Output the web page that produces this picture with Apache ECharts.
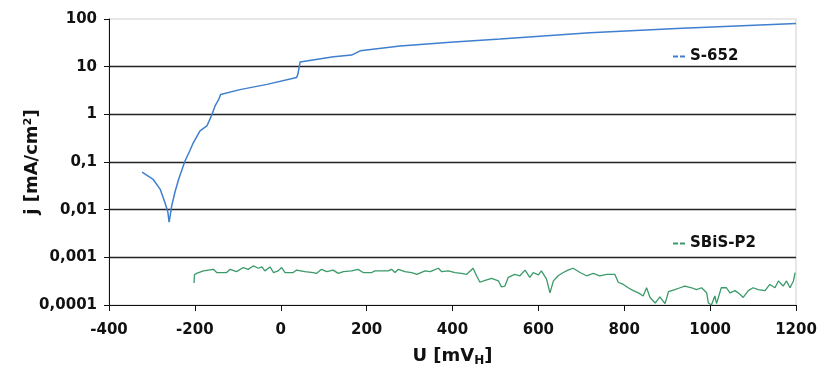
<!DOCTYPE html>
<html>
<head>
<meta charset="utf-8">
<script src="https://cdn.jsdelivr.net/npm/echarts@6/dist/echarts.min.js"></script>
<style>html,body{margin:0;padding:0;background:#fff}#c{width:817px;height:371px}</style>
</head>
<body>
<div id="c"></div>
<script>
// Potential U [mV_H]
var xTicks = [-400, -200, 0, 200, 400, 600, 800, 1000, 1200];
var yTickLabels = ['0,0001', '0,001', '0,01', '0,1', '1', '10', '100'];

// S-652 (blue)
var s652U = [-323, -297, -281, -270, -263, -260, -257, -254, -246, -238, -223, -212, -204, -188, -172, -160, -153, -145, -140, -137, -95, -32, 37, 40, 45, 123, 165, 185, 278, 395, 511, 720, 922, 1200];
var s652J = [0.061, 0.043, 0.027, 0.0143, 0.009, 0.0055, 0.008, 0.012, 0.024, 0.043, 0.105, 0.17, 0.25, 0.45, 0.57, 1.0, 1.5, 2.0, 2.6, 2.7, 3.3, 4.25, 5.9, 7, 12.5, 16.2, 17.5, 21.5, 27, 32.6, 38, 51.6, 63, 80];

// SBiS-P2 (green)
var sbisU = [-202, -201, -196, -180, -157, -149, -126, -118, -103, -87, -76, -64, -52, -44, -37, -25, -17, -6, 2, 10, 29, 37, 56, 76, 83, 95, 107, 122, 134, 146, 150, 165, 180, 192, 212, 219, 250, 258, 266, 274, 289, 305, 317, 336, 348, 367, 375, 390, 406, 421, 433, 448, 456, 464, 476, 491, 507, 514, 522, 530, 545, 557, 569, 580, 588, 600, 607, 619, 627, 635, 646, 658, 669, 681, 697, 712, 728, 743, 759, 778, 786, 798, 809, 821, 833, 844, 852, 860, 872, 875, 883, 895, 903, 918, 930, 941, 957, 968, 980, 992, 996, 1003, 1011, 1015, 1026, 1038, 1046, 1058, 1069, 1077, 1089, 1100, 1112, 1128, 1139, 1151, 1159, 1170, 1178, 1186, 1194, 1198];
var sbisJ = [0.00029, 0.00043, 0.00046, 0.00052, 0.00056, 0.00048, 0.00048, 0.00056, 0.0005, 0.00061, 0.00056, 0.00066, 0.00059, 0.00063, 0.00052, 0.00063, 0.00048, 0.00052, 0.00061, 0.00048, 0.00048, 0.00054, 0.0005, 0.00048, 0.00046, 0.00056, 0.0005, 0.00054, 0.00046, 0.0005, 0.00048, 0.00052, 0.00056, 0.00048, 0.00048, 0.00052, 0.00052, 0.00056, 0.00048, 0.00056, 0.0005, 0.00048, 0.00044, 0.00052, 0.0005, 0.00059, 0.0005, 0.00052, 0.00048, 0.00046, 0.00044, 0.00059, 0.00041, 0.0003, 0.00033, 0.00036, 0.00032, 0.00024, 0.00025, 0.00038, 0.00044, 0.00041, 0.00054, 0.00038, 0.00048, 0.00043, 0.00052, 0.00035, 0.00018, 0.00032, 0.00041, 0.00048, 0.00054, 0.00059, 0.00048, 0.00041, 0.00046, 0.00041, 0.00044, 0.00044, 0.0003, 0.00027, 0.00023, 0.0002, 0.00018, 0.000155, 0.00023, 0.000144, 0.00011, 0.0001, 0.000148, 0.000107, 0.00019, 0.00021, 0.00023, 0.00025, 0.00023, 0.00021, 0.00023, 0.00018, 0.00011, 0.0001, 0.000155, 0.000107, 0.00023, 0.00023, 0.00018, 0.0002, 0.00017, 0.000144, 0.0002, 0.00023, 0.00021, 0.0002, 0.00027, 0.00023, 0.00032, 0.00025, 0.00032, 0.00023, 0.00032, 0.00048];

function pairs(xs, ys) { return xs.map(function (x, i) { return [x, ys[i]]; }); }

var FONT = 'DejaVu Sans';
var chart = echarts.init(document.getElementById('c'), null, { renderer: 'canvas' });
var dashIcon = 'path://M0,0h5v2h-5z M7,0h5v2h-5z';
chart.setOption({
  animation: false,
  backgroundColor: '#fff',
  grid: { left: 109, right: 21, top: 19, bottom: 66, show: true, borderColor: '#cfcfcf', borderWidth: 1,
    containLabel: false, outerBoundsMode: 'none' },
  legend: [
    { data: ['S-652'], left: 668, top: 44, icon: dashIcon, itemWidth: 12, itemHeight: 2, itemGap: 4,
      textStyle: { fontFamily: FONT, fontWeight: 'bold', fontSize: 15, color: '#111' } },
    { data: ['SBiS-P2'], left: 668, top: 231, icon: dashIcon, itemWidth: 12, itemHeight: 2, itemGap: 4,
      textStyle: { fontFamily: FONT, fontWeight: 'bold', fontSize: 15, color: '#111' } }
  ],
  xAxis: {
    type: 'value', min: xTicks[0], max: xTicks[xTicks.length - 1], interval: 200,
    axisLine: { onZero: false, lineStyle: { color: '#111', width: 1 } },
    axisTick: { show: true, length: 6, lineStyle: { color: '#111' } },
    splitLine: { show: false },
    axisLabel: { margin: 18, color: '#111', fontFamily: FONT, fontWeight: 'bold', fontSize: 15,
      formatter: function (v) { return String(v); } },
    name: 'U [mV{sub|H}]', nameLocation: 'middle', nameGap: 40, nameMoveOverlap: false,
    nameTextStyle: { fontFamily: FONT, fontWeight: 'bold', fontSize: 18, color: '#111',
      rich: { sub: { fontFamily: FONT, fontWeight: 'bold', fontSize: 12, color: '#111', verticalAlign: 'bottom', padding: [10, 0, 0, 0] } } }
  },
  yAxis: {
    type: 'log', logBase: 10, min: 0.0001, max: 100,
    axisLine: { show: true, onZero: false, lineStyle: { color: '#111', width: 1 } },
    axisTick: { show: true, length: 5, lineStyle: { color: '#111' } },
    minorTick: { show: false },
    splitLine: { show: true, showMinLine: false, showMaxLine: false, lineStyle: { color: '#222', width: 1.3 } },
    axisLabel: { margin: 12, color: '#111', fontFamily: FONT, fontWeight: 'bold', fontSize: 15,
      formatter: function (v) { var k = Math.round(Math.log10(v)) + 4; return yTickLabels[k]; } },
    name: 'j [mA/cm²]', nameLocation: 'middle', nameGap: 68, nameRotate: 90, nameMoveOverlap: false,
    nameTextStyle: { fontFamily: FONT, fontWeight: 'bold', fontSize: 18, color: '#111' }
  },
  series: [
    { name: 'S-652', type: 'line', data: pairs(s652U, s652J), showSymbol: false, symbol: 'none', clip: true,
      lineStyle: { color: '#3f7fcf', width: 1.5 }, itemStyle: { color: '#3f7fcf' } },
    { name: 'SBiS-P2', type: 'line', data: pairs(sbisU, sbisJ), showSymbol: false, symbol: 'none', clip: true,
      lineStyle: { color: '#3a9a6a', width: 1.3 }, itemStyle: { color: '#3a9a6a' } }
  ]
});
</script>
</body>
</html>
